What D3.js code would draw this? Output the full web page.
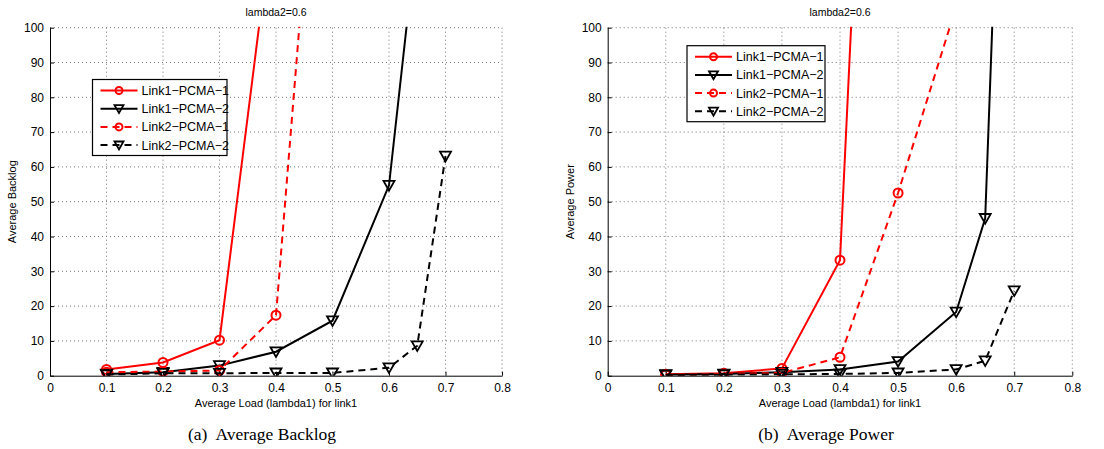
<!DOCTYPE html>
<html>
<head>
<meta charset="utf-8">
<script src="https://cdn.jsdelivr.net/npm/d3@7"></script>
<style>
  body { margin: 0; background: #fff; }
  svg { display: block; }
</style>
</head>
<body>
<div id="chart"></div>
<script>
// series labels and x ticks
const seriesNames = ["Link1\u2212PCMA\u22121", "Link1\u2212PCMA\u22122", "Link2\u2212PCMA\u22121", "Link2\u2212PCMA\u22122"];
const xTicks = [0, 0.1, 0.2, 0.3, 0.4, 0.5, 0.6, 0.7, 0.8];
const yTicks = [0, 10, 20, 30, 40, 50, 60, 70, 80, 90, 100];

// (a) average backlog
const backlogL1P1x = [0.1, 0.2, 0.3, 0.4];
const backlogL1P1 = [1.8, 3.8, 10.2, 139];
const backlogL1P2x = [0.1, 0.2, 0.3, 0.4, 0.5, 0.6, 0.65];
const backlogL1P2 = [0.5, 1.0, 2.9, 6.9, 15.8, 54.7, 128];
const backlogL2P1x = [0.1, 0.2, 0.3, 0.4, 0.5];
const backlogL2P1 = [1.0, 1.2, 1.5, 17.4, 218];
const backlogL2P2x = [0.1, 0.2, 0.3, 0.4, 0.5, 0.6, 0.65, 0.7];
const backlogL2P2 = [0.3, 0.7, 0.7, 0.8, 0.8, 2.3, 8.6, 63.1];

// (b) average power
const powerL1P1x = [0.1, 0.2, 0.3, 0.4, 0.5];
const powerL1P1 = [0.4, 0.7, 2.1, 33.2, 384];
const powerL1P2x = [0.1, 0.2, 0.3, 0.4, 0.5, 0.6, 0.65, 0.7];
const powerL1P2 = [0.3, 0.5, 1.0, 1.8, 4.1, 18.3, 45.2, 272];
const powerL2P1x = [0.1, 0.2, 0.3, 0.4, 0.5, 0.6];
const powerL2P1 = [0.3, 0.5, 0.8, 5.3, 52.5, 106];
const powerL2P2x = [0.1, 0.2, 0.3, 0.4, 0.5, 0.6, 0.65, 0.7];
const powerL2P2 = [0.2, 0.3, 0.4, 0.5, 0.8, 1.8, 4.3, 24.4];

const styles = [
  { color: "#ff0000", dash: null, marker: "circle" },
  { color: "#000000", dash: null, marker: "tri" },
  { color: "#ff0000", dash: "7,5", marker: "circle" },
  { color: "#000000", dash: "7,5", marker: "tri" }
];

const width = 1104, height = 449;
const svg = d3.select("#chart").append("svg")
  .attr("width", width).attr("height", height)
  .style("font-family", "'Liberation Sans', Arial, sans-serif");

function drawMarker(g, type, color, x, y, small) {
  if (type === "circle") {
    g.append("circle").attr("cx", x).attr("cy", y).attr("r", small ? 3.5 : 4.5)
      .attr("fill", "none").attr("stroke", color).attr("stroke-width", 2);
  } else {
    const s = small ? 4.5 : 5.5;
    g.append("path")
      .attr("d", `M${x - s},${y - s * 0.8}L${x + s},${y - s * 0.8}L${x},${y + s * 0.95}Z`)
      .attr("fill", "none").attr("stroke", color).attr("stroke-width", 1.8);
  }
}

function drawPanel(opts) {
  const { left, right, top, bottom, yLabel, tag, caption, series, legend, id } = opts;
  const x = d3.scaleLinear().domain([0, 0.8]).range([left, right]);
  const y = d3.scaleLinear().domain([0, 100]).range([bottom, top]);
  const g = svg.append("g");

  g.append("clipPath").attr("id", id)
    .append("rect").attr("x", left).attr("y", top - 1)
    .attr("width", right - left).attr("height", bottom - top + 1);

  // grid
  g.append("g").selectAll("line").data(xTicks.slice(1)).join("line")
    .attr("x1", d => x(d)).attr("x2", d => x(d)).attr("y1", top).attr("y2", bottom)
    .attr("stroke", "#777").attr("stroke-width", 1).attr("stroke-dasharray", "1,3");
  g.append("g").selectAll("line").data(yTicks.slice(1)).join("line")
    .attr("x1", left).attr("x2", right).attr("y1", d => y(d)).attr("y2", d => y(d))
    .attr("stroke", "#777").attr("stroke-width", 1).attr("stroke-dasharray", "1,3");

  // axes
  const xAxis = g.append("g").attr("transform", `translate(0,${bottom})`)
    .call(d3.axisBottom(x).tickValues(xTicks).tickFormat(d3.format("~g")).tickSizeInner(-4).tickSizeOuter(0).tickPadding(8));
  const yAxis = g.append("g").attr("transform", `translate(${left},0)`)
    .call(d3.axisLeft(y).tickValues(yTicks).tickSizeInner(-4).tickSizeOuter(0).tickPadding(6));
  [xAxis, yAxis].forEach(a => {
    a.select(".domain").attr("stroke", "#000").attr("stroke-width", 1);
    a.selectAll(".tick line").attr("stroke", "#000");
    a.selectAll("text").attr("fill", "#000").style("font-size", "12px")
      .style("font-family", "'Liberation Sans', Arial, sans-serif");
  });

  // title and labels
  g.append("text").attr("x", (left + right) / 2).attr("y", 16)
    .attr("text-anchor", "middle").style("font-size", "10.5px").text("lambda2=0.6");
  g.append("text").attr("x", (left + right) / 2).attr("y", bottom + 31)
    .attr("text-anchor", "middle").style("font-size", "11px").text("Average Load (lambda1) for link1");
  g.append("text").attr("transform", `translate(${left - 34},${(top + bottom) / 2}) rotate(-90)`)
    .attr("text-anchor", "middle").style("font-size", "11px").text(yLabel);
  const cap = g.append("text").attr("x", (left + right) / 2 - 14).attr("y", 440)
    .attr("text-anchor", "middle").style("font-family", "'Liberation Serif', 'Times New Roman', serif")
    .style("font-size", "17.5px");
  cap.append("tspan").text(tag);
  cap.append("tspan").attr("dx", 8).text(caption);

  // series
  const plot = g.append("g").attr("clip-path", `url(#${id})`);
  const line = d3.line().x(d => x(d[0])).y(d => y(d[1]));
  series.forEach((s, i) => {
    const st = styles[i];
    const pts = s.xs.map((v, k) => [v, s.ys[k]]);
    plot.append("path").datum(pts).attr("d", line)
      .attr("fill", "none").attr("stroke", st.color).attr("stroke-width", 2)
      .attr("stroke-dasharray", st.dash);
    const mg = plot.append("g");
    pts.forEach(p => drawMarker(mg, st.marker, st.color, x(p[0]), y(p[1]), false));
  });

  // legend
  const lg = g.append("g");
  lg.append("rect").attr("x", legend.x).attr("y", legend.y).attr("width", legend.w).attr("height", legend.h)
    .attr("fill", "#fff").attr("stroke", "#000").attr("stroke-width", 1.2);
  seriesNames.forEach((name, i) => {
    const st = styles[i];
    const cy = legend.y + 11 + i * 18.2;
    const x0 = legend.x + 8, x1 = legend.x + 45;
    lg.append("line").attr("x1", x0).attr("x2", x1).attr("y1", cy).attr("y2", cy)
      .attr("stroke", st.color).attr("stroke-width", 2).attr("stroke-dasharray", st.dash ? "7,5" : null);
    drawMarker(lg, st.marker, st.color, (x0 + x1) / 2, cy, true);
    lg.append("text").attr("x", x1 + 4).attr("y", cy + 4.5).style("font-size", "12.5px").text(name);
  });
}

drawPanel({
  id: "clipA", left: 50, right: 502, top: 27.7, bottom: 375.7,
  yLabel: "Average Backlog", tag: "(a)", caption: "Average Backlog",
  legend: { x: 92.5, y: 79.5, w: 134.5, h: 76 },
  series: [
    { xs: backlogL1P1x, ys: backlogL1P1 },
    { xs: backlogL1P2x, ys: backlogL1P2 },
    { xs: backlogL2P1x, ys: backlogL2P1 },
    { xs: backlogL2P2x, ys: backlogL2P2 }
  ]
});

drawPanel({
  id: "clipB", left: 607.7, right: 1072.3, top: 27.7, bottom: 375.7,
  yLabel: "Average Power", tag: "(b)", caption: "Average Power",
  legend: { x: 687, y: 45.7, w: 138, h: 76 },
  series: [
    { xs: powerL1P1x, ys: powerL1P1 },
    { xs: powerL1P2x, ys: powerL1P2 },
    { xs: powerL2P1x, ys: powerL2P1 },
    { xs: powerL2P2x, ys: powerL2P2 }
  ]
});
</script>
</body>
</html>
